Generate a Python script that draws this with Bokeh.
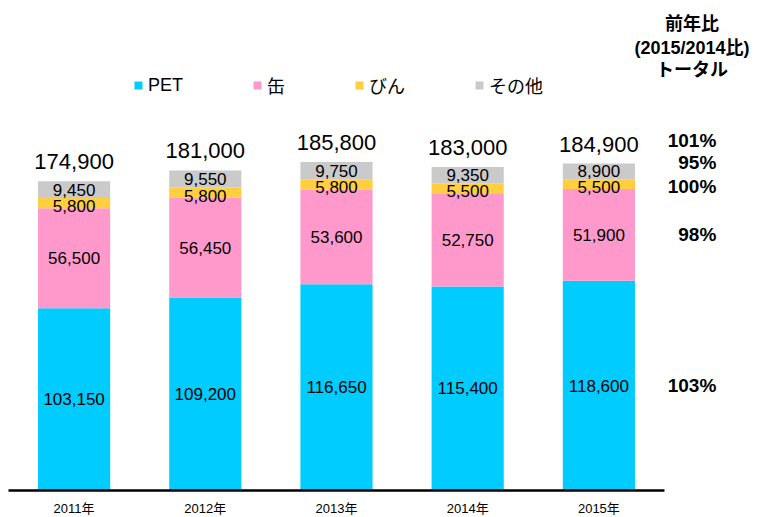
from bokeh.plotting import figure
from bokeh.models import Range1d, Legend, LegendItem, ColumnDataSource
from bokeh.core.properties import value
from bokeh.embed import file_html
from bokeh.resources import INLINE

years = ["2011年", "2012年", "2013年", "2014年", "2015年"]
series = ["PET", "缶", "びん", "その他"]
pet = [103150, 109200, 116650, 115400, 118600]
can = [56500, 56450, 53600, 52750, 51900]
bottle = [5800, 5800, 5800, 5500, 5500]
other = [9450, 9550, 9750, 9350, 8900]
totals = [174900, 181000, 185800, 183000, 184900]
ratio_total = "101%"
ratios = ["103%", "98%", "100%", "95%"]  # PET, 缶, びん, その他
header = ["前年比", "(2015/2014比)", "トータル"]

colors = ["#00ccff", "#ff99cc", "#ffcf3f", "#cacaca"]
FONT = "Liberation Sans, Noto Sans CJK JP"

xs = list(range(len(years)))
keys = ["pet", "can", "bottle", "other"]
src = ColumnDataSource(dict(x=xs, pet=pet, can=can, bottle=bottle, other=other))

p = figure(width=757, height=517, output_backend="svg", toolbar_location=None,
           x_range=Range1d(-0.561, 5.209), y_range=Range1d(-15271, 277149),
           min_border=0)
p.outline_line_color = None
p.grid.visible = False
p.axis.visible = False
p.background_fill_color = "white"

rs = p.vbar_stack(keys, x="x", width=0.55, source=src, color=colors, line_color=None)

# baseline
p.segment(x0=[-0.5], y0=[0], x1=[len(years) - 0.5], y1=[0], line_color="black", line_width=2.5)

# category labels
p.text(x=xs, y=[0] * len(xs), text=years, text_align="center", text_baseline="middle",
       text_font=value(FONT), text_font_size="13px", text_color="black", y_offset=18)

# segment labels
stacks = [pet, can, bottle, other]
offs = [0, 0, 3, 0]
for k, vals in enumerate(stacks):
    base = [sum(s[i] for s in stacks[:k]) for i in range(len(xs))]
    ys = [b + v / 2 for b, v in zip(base, vals)]
    p.text(x=xs, y=ys, text=[f"{v:,}" for v in vals], text_align="center",
           text_baseline="middle", text_font=value(FONT), text_font_size="17px",
           text_color="black", y_offset=offs[k])

p.text(x=xs, y=totals, text=[f"{v:,}" for v in totals], text_align="center",
       text_baseline="bottom", text_font=value(FONT), text_font_size="22px",
       text_color="black", y_offset=-12)

# ratio column (positioned at 2015 segment centers)
last = len(xs) - 1
rx = 4.895
r_off = [0, 0, 2, -9]
for k, vals in enumerate(stacks):
    base = sum(s[last] for s in stacks[:k])
    p.text(x=[rx], y=[base + vals[last] / 2], text=[ratios[k]], text_align="right",
           text_baseline="middle", text_font=value(FONT), text_font_size="19px",
           text_font_style="bold", text_color="black", y_offset=r_off[k])
p.text(x=[rx], y=[totals[last]], text=[ratio_total], text_align="right",
       text_baseline="middle", text_font=value(FONT), text_font_size="19px",
       text_font_style="bold", text_color="black", y_offset=-23)

hx = 4.71
hy = [264100, 250000, 238100]
p.text(x=[hx] * 3, y=hy, text=header, text_align="center", text_baseline="middle",
       text_font=value(FONT), text_font_size="18px", text_font_style="bold",
       text_color="black")

legend = Legend(items=[LegendItem(label=s, renderers=[r]) for s, r in zip(series, rs)],
                orientation="horizontal", location=(133, 419), padding=0, margin=0,
                spacing=69, glyph_width=10, glyph_height=10, label_standoff=5,
                label_width=0, label_height=20, border_line_color=None,
                background_fill_alpha=0, label_text_font=FONT,
                label_text_font_size="18px", label_text_color="black")
p.add_layout(legend, "center")

open("out.html", "w").write(file_html(p, INLINE))
